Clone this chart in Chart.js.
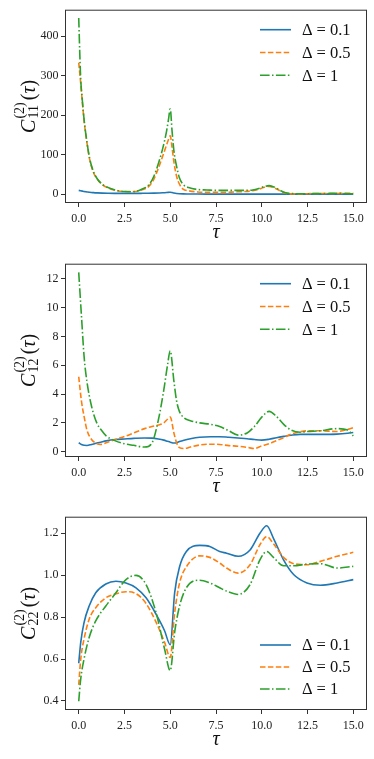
<!DOCTYPE html>
<html>
<head>
<meta charset="utf-8">
<script src="https://cdn.jsdelivr.net/npm/chart.js@4.4.0/dist/chart.umd.min.js"></script>
<style>
  html, body { margin: 0; padding: 0; background: #fff; }
  body { width: 374px; height: 759px; position: relative; overflow: hidden; }
  .panel { position: absolute; left: 0; width: 374px; height: 250px; }
</style>
</head>
<body>
<div class="panel" style="top:0px"><canvas id="c11" width="374" height="250"></canvas></div>
<div class="panel" style="top:254px"><canvas id="c12" width="374" height="250"></canvas></div>
<div class="panel" style="top:507px"><canvas id="c22" width="374" height="250"></canvas></div>
<script>
// legend labels, one per detuning
const deltaLabels = ["Δ = 0.1", "Δ = 0.5", "Δ = 1"];
const tauTicks = [0, 2.5, 5, 7.5, 10, 12.5, 15];

// C11
const tau11 = [0, 0.1, 0.2, 0.3, 0.45, 0.6, 0.8, 1.0, 1.3, 1.6, 2.0, 2.5, 3.0, 3.5, 3.8, 4.1, 4.4, 4.6, 4.8, 4.9,
  5.0, 5.1, 5.2, 5.35, 5.5, 5.7, 6.0, 6.5, 7.0, 7.5, 8.0, 8.5, 9.0, 9.5, 9.8, 10.1, 10.4, 10.7, 11.0, 11.3,
  11.6, 12.0, 12.5, 13.0, 13.5, 14.0, 14.5, 15.0];
const c11_d01 = [10, 9, 8, 7, 6, 5, 4.2, 3.6, 3, 2.6, 2.4, 2.3, 2.3, 2.5, 2.7, 3, 3.4, 3.8, 4.4, 4.8,
  5.3, 4.4, 3.2, 2, 1.4, 1, 0.8, 0.6, 0.5, 0.5, 0.5, 0.5, 0.5, 0.5, 0.5, 0.5, 0.5, 0.5, 0.5, 0.5,
  0.5, 0.5, 0.5, 0.5, 0.5, 0.5, 0.5, 0.5];
const c11_d05 = [333, 285, 232, 183, 130, 88, 56, 39, 24, 16, 10, 7, 7, 12, 19, 38, 72, 98, 125, 138,
  148, 118, 82, 45, 26, 13, 9, 6, 5, 5, 5, 6, 7, 9, 12, 17, 20, 16, 9, 3,
  1, 1, 1.5, 2, 2, 2, 2.5, 3];
const c11_d1 = [446, 300, 236, 186, 132, 90, 58, 40, 25, 17, 11, 7, 6.5, 14, 22, 45, 85, 118, 160, 188,
  216, 160, 110, 70, 42, 25, 17, 12, 11, 10, 10, 10, 10, 11, 14, 19, 22, 18, 10, 4,
  2, 1.5, 1.5, 2, 2, 2.5, 2, 1];
const ticks11 = [0, 100, 200, 300, 400];

// C12
const tau12 = [0, 0.15, 0.3, 0.45, 0.7, 1.0, 1.2, 1.5, 2.0, 2.5, 3.0, 3.6, 4.0, 4.35, 4.65, 4.85, 5.0, 5.2, 5.35, 5.5,
  5.75, 6.1, 6.6, 7.2, 7.7, 8.2, 8.7, 9.2, 9.6, 10.0, 10.4, 10.8, 11.2, 11.6, 12.1, 12.5, 13.2, 14.1, 14.7, 15.0];
const c12_d01 = [0.62, 0.5, 0.44, 0.43, 0.5, 0.6, 0.66, 0.75, 0.84, 0.88, 0.92, 0.95, 0.94, 0.88, 0.8, 0.72, 0.66, 0.6, 0.62, 0.7,
  0.8, 0.9, 1.0, 1.04, 1.04, 1.0, 0.95, 0.9, 0.84, 0.8, 0.86, 0.97, 1.06, 1.14, 1.2, 1.2, 1.2, 1.22, 1.28, 1.33];
const c12_d05 = [5.2, 3.5, 2.4, 1.5, 0.85, 0.55, 0.5, 0.62, 0.85, 1.05, 1.3, 1.6, 1.75, 1.85, 2.0, 2.25, 2.4, 1.3, 0.6, 0.28,
  0.22, 0.32, 0.46, 0.52, 0.5, 0.42, 0.38, 0.3, 0.22, 0.4, 0.55, 0.76, 0.98, 1.22, 1.38, 1.45, 1.45, 1.4, 1.55, 1.67];
const c12_d1 = [12.45, 9.4, 6.5, 4.85, 3.15, 1.95, 1.55, 1.1, 0.75, 0.55, 0.44, 0.32, 0.6, 2.2, 4.3, 6.0, 7.0, 4.9, 3.5, 2.8,
  2.35, 2.15, 2.0, 1.9, 1.75, 1.45, 1.15, 1.3, 1.75, 2.4, 2.8, 2.45, 1.9, 1.5, 1.35, 1.4, 1.45, 1.6, 1.5, 1.1];
const ticks12 = [0, 2, 4, 6, 8, 10, 12];

// C22
const tau22 = [0, 0.11, 0.29, 0.57, 0.93, 1.48, 2.03, 2.58, 3.13, 3.68, 4.23, 4.69, 5.0, 5.24, 5.51, 5.88,
  6.61, 7.16, 7.7, 8.08, 8.71, 9.36, 9.9, 10.27, 10.64, 11.19, 11.74, 12.47, 13.2, 14.12, 15.0];
const c22_d01 = [0.58, 0.68, 0.774, 0.853, 0.916, 0.958, 0.971, 0.963, 0.94, 0.892, 0.813, 0.735, 0.668, 0.916, 1.04, 1.113,
  1.142, 1.137, 1.113, 1.105, 1.09, 1.12, 1.2, 1.236, 1.176, 1.073, 1.003, 0.963, 0.952, 0.963, 0.979];
const c22_d05 = [0.477, 0.6, 0.695, 0.79, 0.845, 0.892, 0.911, 0.921, 0.912, 0.865, 0.775, 0.68, 0.608, 0.82, 0.963, 1.04,
  1.092, 1.085, 1.058, 1.034, 1.01, 1.05, 1.145, 1.184, 1.15, 1.085, 1.055, 1.05, 1.066, 1.09, 1.109];
const c22_d1 = [0.399, 0.506, 0.6, 0.703, 0.782, 0.853, 0.916, 0.979, 0.999, 0.955, 0.82, 0.648, 0.545, 0.727, 0.853, 0.94,
  0.976, 0.963, 0.94, 0.924, 0.908, 0.955, 1.073, 1.113, 1.085, 1.045, 1.045, 1.053, 1.055, 1.034, 1.042];
const ticks22 = [0.4, 0.6, 0.8, 1.0, 1.2];

const FONT = "'Liberation Serif', 'DejaVu Serif', serif";
const colors = ["#1f77b4", "#ff7f0e", "#2ca02c"];
const dashes = [[], [5.5, 2.4], [9.6, 2.4, 1.5, 2.4]];

// box round the plot like matplotlib spines
const frame = {
  id: "frame",
  afterDraw(chart) {
    const { ctx, chartArea: a } = chart;
    ctx.save();
    ctx.strokeStyle = "#333";
    ctx.lineWidth = 1;
    ctx.strokeRect(a.left + 0.5, a.top + 0.5, a.right - a.left - 1, a.bottom - a.top - 1);
    ctx.restore();
  }
};

// rotated C^(2)_ij(tau) label
const yTitle = {
  id: "yTitle",
  afterDraw(chart, args, opts) {
    const { ctx, chartArea: a } = chart;
    const big = `20px ${FONT}`, bigIt = `italic 20px ${FONT}`, small = `14px ${FONT}`;
    ctx.save();
    ctx.font = bigIt;
    const wC = ctx.measureText("C").width, wT = ctx.measureText("τ").width;
    ctx.font = small;
    const wS = Math.max(ctx.measureText("(2)").width, ctx.measureText(opts.sub).width);
    ctx.font = big;
    const wP = ctx.measureText("(").width, wQ = ctx.measureText(")").width;
    const total = wC + 1 + wS + 2 + wP + wT + wQ;
    ctx.translate(35, (a.top + a.bottom) / 2);
    ctx.rotate(-Math.PI / 2);
    ctx.fillStyle = "#111";
    ctx.textBaseline = "alphabetic";
    let x = -total / 2;
    ctx.font = bigIt; ctx.fillText("C", x, 0); x += wC + 1;
    ctx.font = small; ctx.fillText("(2)", x, -11); ctx.fillText(opts.sub, x, 3); x += wS + 2;
    ctx.font = big; ctx.fillText("(", x, 0); x += wP;
    ctx.font = bigIt; ctx.fillText("τ", x, 0); x += wT;
    ctx.font = big; ctx.fillText(")", x, 0);
    ctx.restore();
  }
};

// legend inside the axes, top right or bottom right
const boxLegend = {
  id: "boxLegend",
  afterDraw(chart, args, opts) {
    const { ctx, chartArea: a } = chart;
    ctx.save();
    chart.data.datasets.forEach((ds, i) => {
      const y = opts.top ? a.top + 20 + i * 22.8 : a.bottom - 65 + i * 22;
      ctx.beginPath();
      ctx.setLineDash(ds.borderDash);
      ctx.lineWidth = ds.borderWidth;
      ctx.strokeStyle = ds.borderColor;
      ctx.moveTo(a.right - 107, y);
      ctx.lineTo(a.right - 76, y);
      ctx.stroke();
      ctx.setLineDash([]);
      const [lhs, rhs] = ds.label.split(" = ");
      ctx.font = `16.5px ${FONT}`;
      ctx.fillStyle = "#111";
      ctx.textBaseline = "middle";
      let cx = a.right - 65;
      ctx.fillText(lhs, cx, y + 1);
      cx += ctx.measureText(lhs).width + 4;
      ctx.fillText("=", cx, y + 1);
      cx += ctx.measureText("=").width + 4;
      ctx.fillText(rhs, cx, y + 1);
    });
    ctx.restore();
  }
};

function makePanel(id, tau, series, yMin, yMax, yTicks, yFmt, sub, legendTop) {
  const axisGrid = { drawOnChartArea: false, drawTicks: true, tickLength: 4, color: "#333" };
  const tickFont = { family: FONT, size: 12 };
  return new Chart(document.getElementById(id), {
    type: "line",
    data: {
      datasets: series.map((vals, i) => ({
        label: deltaLabels[i],
        data: tau.map((t, k) => ({ x: t, y: vals[k] })),
        borderColor: colors[i],
        borderDash: dashes[i],
        borderWidth: 1.6,
        pointRadius: 0,
        fill: false,
        cubicInterpolationMode: "monotone",
        order: 2 - i,
      })),
    },
    options: {
      responsive: false,
      animation: false,
      layout: { padding: { top: 8, right: 7, left: 0, bottom: 0 } },
      scales: {
        x: {
          type: "linear",
          min: -0.75,
          max: 15.75,
          afterBuildTicks: (s) => { s.ticks = tauTicks.map((v) => ({ value: v })); },
          afterFit: (s) => { s.height = 47; },
          grid: axisGrid,
          border: { display: false },
          ticks: { padding: 5, color: "#222", font: tickFont, maxRotation: 0, autoSkip: false,
            callback: (v) => v.toFixed(1) },
          title: { display: true, text: "τ", color: "#111",
            font: { family: FONT, size: 20, style: "italic" }, padding: { top: 0, bottom: 5 } },
        },
        y: {
          type: "linear",
          min: yMin,
          max: yMax,
          afterBuildTicks: (s) => { s.ticks = yTicks.map((v) => ({ value: v })); },
          afterFit: (s) => { s.width = 65; },
          grid: axisGrid,
          border: { display: false },
          ticks: { padding: 2.5, color: "#222", font: tickFont, autoSkip: false, callback: yFmt },
        },
      },
      plugins: {
        legend: { display: false },
        tooltip: { enabled: false },
        yTitle: { sub: sub },
        boxLegend: { top: legendTop },
      },
    },
    plugins: [frame, yTitle, boxLegend],
  });
}

makePanel("c11", tau11, [c11_d01, c11_d05, c11_d1], -22, 467, ticks11, (v) => String(v), "11", true);
makePanel("c12", tau12, [c12_d01, c12_d05, c12_d1], -0.37, 13.05, ticks12, (v) => String(v), "12", true);
makePanel("c22", tau22, [c22_d01, c22_d05, c22_d1], 0.357, 1.279, ticks22, (v) => v.toFixed(1), "22", false);
</script>
</body>
</html>
